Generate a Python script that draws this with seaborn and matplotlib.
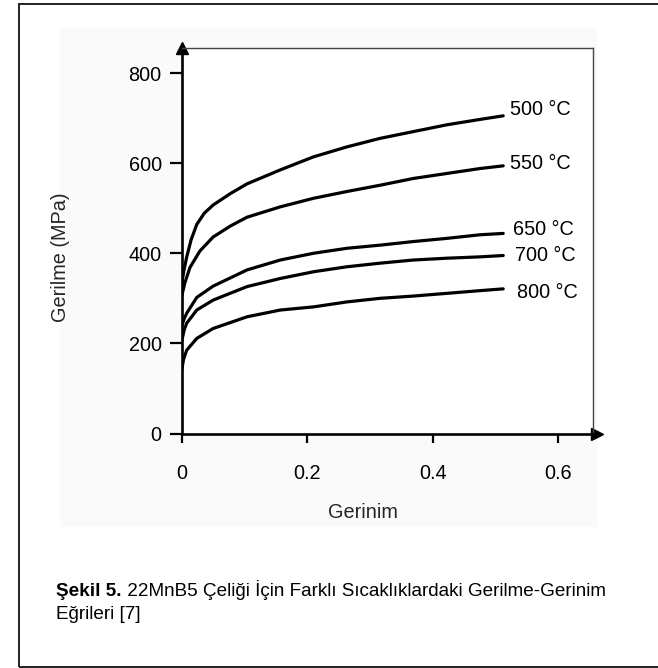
import numpy as np
import pandas as pd
import matplotlib
matplotlib.use("Agg")
import matplotlib.pyplot as plt
from matplotlib.patches import Rectangle
import seaborn as sns

# ---- data ----
temps = [500, 550, 650, 700, 800]
curve_labels = ["500 °C", "550 °C", "650 °C", "700 °C", "800 °C"]

strain_500 = [0, 0.004, 0.008, 0.015, 0.024, 0.036, 0.050, 0.077, 0.104, 0.157,
              0.210, 0.263, 0.316, 0.369, 0.422, 0.475, 0.512]
stress_500 = [333, 365, 392, 430, 464, 489, 507, 532, 554, 585,
              614, 636, 655, 670, 685, 697, 705]

strain_550 = [0, 0.005, 0.013, 0.029, 0.050, 0.077, 0.104, 0.157,
              0.210, 0.263, 0.316, 0.369, 0.422, 0.475, 0.512]
stress_550 = [305, 334, 368, 405, 436, 460, 480, 503,
              522, 537, 551, 566, 577, 588, 594]

strain_650 = [0, 0.004, 0.008, 0.024, 0.050, 0.104, 0.157,
              0.210, 0.263, 0.316, 0.369, 0.422, 0.475, 0.512]
stress_650 = [238, 255, 267, 302, 327, 363, 385,
              400, 411, 418, 426, 433, 441, 444]

strain_700 = [0, 0.004, 0.008, 0.024, 0.050, 0.104, 0.157,
              0.210, 0.263, 0.316, 0.369, 0.422, 0.475, 0.512]
stress_700 = [205, 230, 245, 274, 296, 326, 344,
              359, 370, 378, 385, 389, 392, 395]

strain_800 = [0, 0.003, 0.008, 0.024, 0.050, 0.104, 0.157,
              0.210, 0.263, 0.316, 0.369, 0.422, 0.475, 0.512]
stress_800 = [141, 165, 185, 211, 233, 259, 274,
              281, 292, 300, 305, 311, 317, 321]

# label anchor positions (data coords)
label_x = [0.523, 0.523, 0.528, 0.531, 0.534]
label_y = [718, 600, 452, 396, 312]

x_ticks = [0, 0.2, 0.4, 0.6]
x_tick_labels = ["0", "0.2", "0.4", "0.6"]
y_ticks = [0, 200, 400, 600, 800]
y_tick_labels = ["0", "200", "400", "600", "800"]

x_label = "Gerinim"
y_label = "Gerilme (MPa)"
caption_bold = "Şekil 5."
caption_rest = " 22MnB5 Çeliği İçin Farklı Sıcaklıklardaki Gerilme-Gerinim"
caption_line2 = "Eğrileri [7]"

# ---- build long-form table ----
strains = [strain_500, strain_550, strain_650, strain_700, strain_800]
stresses = [stress_500, stress_550, stress_650, stress_700, stress_800]
rows = []
for t, xs, ys in zip(temps, strains, stresses):
    for x, y in zip(xs, ys):
        rows.append({"temp": t, "strain": x, "stress": y})
df = pd.DataFrame(rows)

# ---- style ----
sns.set_style("white")
plt.rcParams["font.family"] = ["Liberation Sans", "DejaVu Sans"]
FS = 14.3

W, H = 658, 668
fig = plt.figure(figsize=(W / 100, H / 100), dpi=100)

# faint grey backdrop behind the figure body
fig.add_artist(Rectangle((60 / W, 1 - 527 / H), 537 / W, 499 / H,
                         transform=fig.transFigure, facecolor="#fafafa",
                         edgecolor="none", zorder=-10))
# outer frame
fig.add_artist(Rectangle((19 / W, 1 / H), 1.0, (667 - 4) / H,
                         transform=fig.transFigure, fill=False,
                         edgecolor="#222222", linewidth=1.4, zorder=10))

ax_l, ax_r, ax_t, ax_b = 181.7, 593.0, 48.0, 433.5
ax = fig.add_axes([ax_l / W, 1 - ax_b / H, (ax_r - ax_l) / W, (ax_b - ax_t) / H])
ax.set_zorder(1)
ax.set_facecolor("white")

sns.lineplot(data=df, x="strain", y="stress", hue="temp",
             palette=["black"] * len(temps), legend=False, estimator=None,
             linewidth=2.3, ax=ax)
for ln in ax.get_lines():
    ln.set_solid_joinstyle("round")

ax.set_xlim(0, 0.655)
ax.set_ylim(0, 855.5)

ax.set_xticks(x_ticks)
ax.set_xticklabels(x_tick_labels)
ax.set_yticks(y_ticks)
ax.set_yticklabels(y_tick_labels)
ax.tick_params(axis="y", direction="out", length=8.6, width=1.6, pad=5.8,
               labelsize=FS, colors="black", left=True)
ax.tick_params(axis="x", direction="out", length=6.5, width=1.6, pad=15.5,
               labelsize=FS, colors="black", bottom=True)

for side in ["left", "bottom"]:
    ax.spines[side].set_linewidth(1.9)
    ax.spines[side].set_color("black")
for side in ["top", "right"]:
    ax.spines[side].set_linewidth(1.0)
    ax.spines[side].set_color("#444444")
    ax.spines[side].set_visible(True)

# arrow heads at the axis ends
ax.plot(0, 1.0, marker="^", markersize=9, color="black",
        transform=ax.transAxes, clip_on=False)
ax.plot(1.01, 0, marker=">", markersize=9, color="black",
        transform=ax.transAxes, clip_on=False)
ax.plot([1.0, 1.01], [0, 0], color="black", linewidth=1.9,
        transform=ax.transAxes, clip_on=False)

# axis labels
ax.set_xlabel(x_label, fontsize=FS, va="center")
ax.xaxis.set_label_coords((363 - ax_l) / (ax_r - ax_l), (ax_b - 512) / (ax_b - ax_t))
ax.set_ylabel(y_label, fontsize=FS, va="center")
ax.yaxis.set_label_coords((60 - ax_l) / (ax_r - ax_l), (ax_b - 257) / (ax_b - ax_t))

# curve labels
for lx, ly, lab in zip(label_x, label_y, curve_labels):
    ax.text(lx, ly, lab, fontsize=FS, ha="left", va="center", color="black")

# caption
CFS = 13.6
t1 = fig.text(56 / W, 1 - 596 / H, caption_bold, fontsize=CFS, weight="bold",
              ha="left", va="baseline", color="black")
ax.annotate(caption_rest, xy=(1, 0), xycoords=t1, fontsize=CFS,
            ha="left", va="bottom", color="black", annotation_clip=False)
fig.text(56 / W, 1 - 619 / H, caption_line2, fontsize=CFS,
         ha="left", va="baseline", color="black")

fig.savefig("out.png", dpi=100)
